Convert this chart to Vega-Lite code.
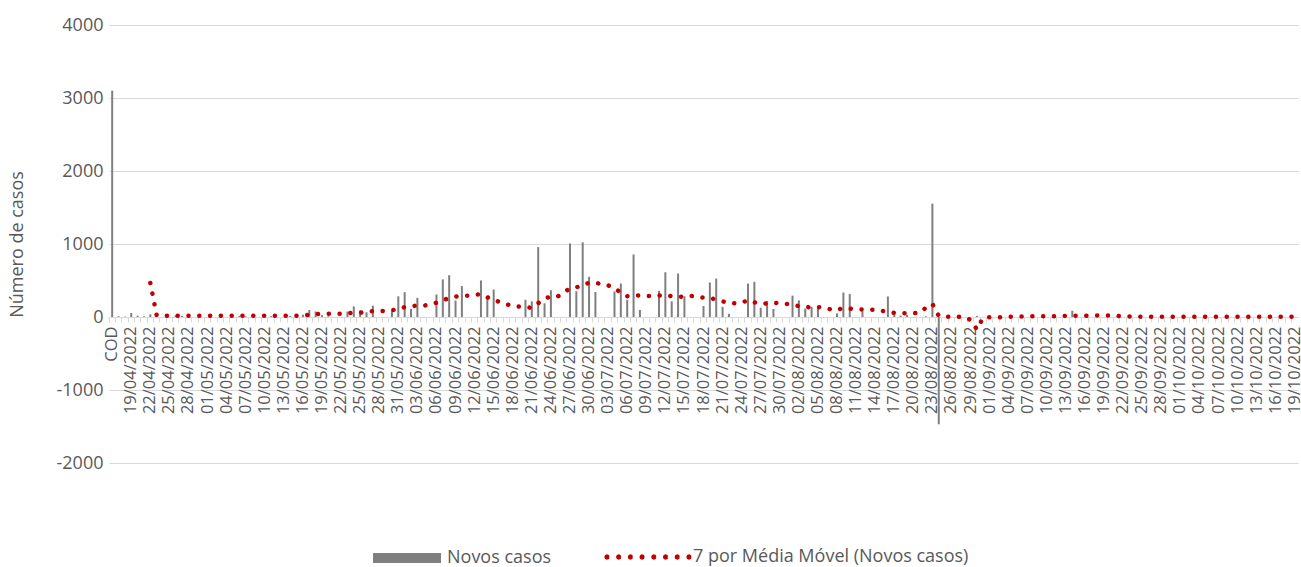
{
  "$schema": "https://vega.github.io/schema/vega-lite/v6.json",
  "width": 1189,
  "height": 438,
  "autosize": {"type": "none"},
  "padding": {"left": 109, "top": 25, "right": 3, "bottom": 104},
  "background": "white",
  "config": {"view": {"stroke": null}, "font": "Open Sans", "legend": {"padding": 0}},
  "data": {"values": [
    {"d":"COD","v":3100},{"d":"17/04/2022","v":10},{"d":"18/04/2022","v":5},{"d":"19/04/2022","v":55},{"d":"20/04/2022","v":18},{"d":"21/04/2022","v":10},
    {"d":"22/04/2022","v":37,"m":466},{"d":"23/04/2022","v":0,"m":22},{"d":"24/04/2022","v":0,"m":18},{"d":"25/04/2022","v":0,"m":18},{"d":"26/04/2022","v":20,"m":17},{"d":"27/04/2022","v":15,"m":17},{"d":"28/04/2022","v":0,"m":17},{"d":"29/04/2022","v":0,"m":17},{"d":"30/04/2022","v":0,"m":17},
    {"d":"01/05/2022","v":0,"m":17},{"d":"02/05/2022","v":0,"m":17},{"d":"03/05/2022","v":10,"m":17},{"d":"04/05/2022","v":0,"m":17},{"d":"05/05/2022","v":0,"m":17},{"d":"06/05/2022","v":15,"m":17},{"d":"07/05/2022","v":10,"m":17},{"d":"08/05/2022","v":0,"m":17},{"d":"09/05/2022","v":0,"m":18},{"d":"10/05/2022","v":15,"m":18},
    {"d":"11/05/2022","v":12,"m":18},{"d":"12/05/2022","v":0,"m":18},{"d":"13/05/2022","v":0,"m":18},{"d":"14/05/2022","v":15,"m":18},{"d":"15/05/2022","v":10,"m":18},{"d":"16/05/2022","v":32,"m":22},{"d":"17/05/2022","v":95,"m":32},{"d":"18/05/2022","v":76,"m":38},{"d":"19/05/2022","v":25,"m":43},{"d":"20/05/2022","v":10,"m":46},
    {"d":"21/05/2022","v":0,"m":46},{"d":"22/05/2022","v":0,"m":46},{"d":"23/05/2022","v":74,"m":51},{"d":"24/05/2022","v":145,"m":57},{"d":"25/05/2022","v":88,"m":59},{"d":"26/05/2022","v":64,"m":70},{"d":"27/05/2022","v":155,"m":82},{"d":"28/05/2022","v":0,"m":83},{"d":"29/05/2022","v":0,"m":84},{"d":"30/05/2022","v":90,"m":93},{"d":"31/05/2022","v":283,"m":110},
    {"d":"01/06/2022","v":340,"m":135},{"d":"02/06/2022","v":110,"m":148},{"d":"03/06/2022","v":262,"m":156},{"d":"04/06/2022","v":0,"m":156},{"d":"05/06/2022","v":0,"m":170},{"d":"06/06/2022","v":308,"m":195},{"d":"07/06/2022","v":515,"m":230},{"d":"08/06/2022","v":573,"m":258},{"d":"09/06/2022","v":226,"m":280},{"d":"10/06/2022","v":423,"m":288},
    {"d":"11/06/2022","v":0,"m":292},{"d":"12/06/2022","v":0,"m":303},{"d":"13/06/2022","v":500,"m":315},{"d":"14/06/2022","v":250,"m":270},{"d":"15/06/2022","v":376,"m":240},{"d":"16/06/2022","v":0,"m":202},{"d":"17/06/2022","v":0,"m":175},{"d":"18/06/2022","v":0,"m":152},{"d":"19/06/2022","v":0,"m":142},{"d":"20/06/2022","v":236,"m":135},
    {"d":"21/06/2022","v":215,"m":125},{"d":"22/06/2022","v":957,"m":190},{"d":"23/06/2022","v":188,"m":255},{"d":"24/06/2022","v":367,"m":278},{"d":"25/06/2022","v":0,"m":278},{"d":"26/06/2022","v":0,"m":330},{"d":"27/06/2022","v":1007,"m":395},{"d":"28/06/2022","v":353,"m":405},{"d":"29/06/2022","v":1023,"m":440},{"d":"30/06/2022","v":550,"m":468},
    {"d":"01/07/2022","v":342,"m":465},{"d":"02/07/2022","v":0,"m":455},{"d":"03/07/2022","v":0,"m":433},{"d":"04/07/2022","v":351,"m":400},{"d":"05/07/2022","v":458,"m":330},{"d":"06/07/2022","v":236,"m":285},{"d":"07/07/2022","v":857,"m":298},{"d":"08/07/2022","v":97,"m":295},{"d":"09/07/2022","v":0,"m":287},{"d":"10/07/2022","v":0,"m":287},
    {"d":"11/07/2022","v":358,"m":293},{"d":"12/07/2022","v":613,"m":300},{"d":"13/07/2022","v":215,"m":285},{"d":"14/07/2022","v":595,"m":273},{"d":"15/07/2022","v":284,"m":285},{"d":"16/07/2022","v":0,"m":290},{"d":"17/07/2022","v":0,"m":275},{"d":"18/07/2022","v":150,"m":265},{"d":"19/07/2022","v":473,"m":259},{"d":"20/07/2022","v":527,"m":240},
    {"d":"21/07/2022","v":139,"m":215},{"d":"22/07/2022","v":44,"m":190},{"d":"23/07/2022","v":0,"m":190},{"d":"24/07/2022","v":0,"m":195},{"d":"25/07/2022","v":458,"m":230},{"d":"26/07/2022","v":483,"m":200},{"d":"27/07/2022","v":127,"m":178},{"d":"28/07/2022","v":220,"m":188},{"d":"29/07/2022","v":110,"m":192},{"d":"30/07/2022","v":0,"m":194},{"d":"31/07/2022","v":0,"m":180},
    {"d":"01/08/2022","v":293,"m":162},{"d":"02/08/2022","v":228,"m":150},{"d":"03/08/2022","v":115,"m":140},{"d":"04/08/2022","v":140,"m":130},{"d":"05/08/2022","v":125,"m":135},{"d":"06/08/2022","v":0,"m":130},{"d":"07/08/2022","v":0,"m":105},{"d":"08/08/2022","v":50,"m":95},{"d":"09/08/2022","v":336,"m":125},{"d":"10/08/2022","v":315,"m":115},
    {"d":"11/08/2022","v":0,"m":106},{"d":"12/08/2022","v":80,"m":102},{"d":"13/08/2022","v":0,"m":101},{"d":"14/08/2022","v":0,"m":101},{"d":"15/08/2022","v":0,"m":85},{"d":"16/08/2022","v":281,"m":70},{"d":"17/08/2022","v":55,"m":58},{"d":"18/08/2022","v":18,"m":54},{"d":"19/08/2022","v":30,"m":51},{"d":"20/08/2022","v":0,"m":53},
    {"d":"21/08/2022","v":0,"m":55},{"d":"22/08/2022","v":8,"m":130},{"d":"23/08/2022","v":1553,"m":180},{"d":"24/08/2022","v":-1470,"m":15},{"d":"25/08/2022","v":0,"m":5},{"d":"26/08/2022","v":0,"m":5},{"d":"27/08/2022","v":0,"m":3},{"d":"28/08/2022","v":0,"m":0},{"d":"29/08/2022","v":0,"m":-40},{"d":"30/08/2022","v":15,"m":-170},{"d":"31/08/2022","v":0,"m":-5},
    {"d":"01/09/2022","v":0,"m":-5},{"d":"02/09/2022","v":0,"m":-5},{"d":"03/09/2022","v":0,"m":-3},{"d":"04/09/2022","v":0,"m":2},{"d":"05/09/2022","v":0,"m":5},{"d":"06/09/2022","v":10,"m":8},{"d":"07/09/2022","v":0,"m":9},{"d":"08/09/2022","v":0,"m":9},{"d":"09/09/2022","v":0,"m":9},{"d":"10/09/2022","v":0,"m":9},
    {"d":"11/09/2022","v":0,"m":10},{"d":"12/09/2022","v":0,"m":12},{"d":"13/09/2022","v":0,"m":16},{"d":"14/09/2022","v":85,"m":18},{"d":"15/09/2022","v":0,"m":18},{"d":"16/09/2022","v":10,"m":18},{"d":"17/09/2022","v":0,"m":20},{"d":"18/09/2022","v":0,"m":22},{"d":"19/09/2022","v":0,"m":22},{"d":"20/09/2022","v":0,"m":20},
    {"d":"21/09/2022","v":8,"m":15},{"d":"22/09/2022","v":0,"m":10},{"d":"23/09/2022","v":0,"m":8},{"d":"24/09/2022","v":0,"m":6},{"d":"25/09/2022","v":0,"m":3},{"d":"26/09/2022","v":0,"m":2},{"d":"27/09/2022","v":0,"m":2},{"d":"28/09/2022","v":0,"m":2},{"d":"29/09/2022","v":0,"m":2},{"d":"30/09/2022","v":0,"m":2},
    {"d":"01/10/2022","v":0,"m":2},{"d":"02/10/2022","v":0,"m":2},{"d":"03/10/2022","v":0,"m":2},{"d":"04/10/2022","v":0,"m":2},{"d":"05/10/2022","v":0,"m":2},{"d":"06/10/2022","v":0,"m":2},{"d":"07/10/2022","v":0,"m":2},{"d":"08/10/2022","v":0,"m":2},{"d":"09/10/2022","v":0,"m":2},{"d":"10/10/2022","v":0,"m":2},
    {"d":"11/10/2022","v":0,"m":2},{"d":"12/10/2022","v":0,"m":2},{"d":"13/10/2022","v":0,"m":2},{"d":"14/10/2022","v":0,"m":2},{"d":"15/10/2022","v":0,"m":2},{"d":"16/10/2022","v":0,"m":2},{"d":"17/10/2022","v":0,"m":2},{"d":"18/10/2022","v":0,"m":2},{"d":"19/10/2022","v":0,"m":2}
  ]},
  "encoding": {
    "x": {
      "field": "d", "type": "ordinal", "sort": null, "title": null,
      "scale": {"paddingInner": 0, "paddingOuter": 0},
      "axis": {
        "offset": -146, "domainColor": "#d9d9d9", "domainWidth": 1,
        "tickColor": "#d9d9d9", "tickSize": 5, "tickWidth": 1, "bandPosition": 0,
        "labelAngle": 270, "labelAlign": "right", "labelBaseline": "middle", "labelPadding": 4,
        "labelFont": "Open Sans", "labelFontSize": 16.5, "labelColor": "#595959",
        "labelOverlap": false, "labelBound": false, "labelFlush": false,
        "labelExpr": "datum.value == 'COD' ? 'COD' : (round((time(datetime(2022, toNumber(substring(datum.value, 3, 5)) - 1, toNumber(substring(datum.value, 0, 2)))) - time(datetime(2022, 3, 19))) / 86400000) % 3 == 0 ? datum.value : '')"
      }
    }
  },
  "layer": [
    {
      "mark": {"type": "bar", "size": 2},
      "encoding": {
        "y": {
          "field": "v", "type": "quantitative",
          "scale": {"domain": [-2000, 4000], "nice": false},
          "axis": {
            "values": [-2000, -1000, 0, 1000, 2000, 3000, 4000], "labelExpr": "'' + datum.value",
            "title": "Número de casos", "domain": false, "ticks": false, "tickSize": 0,
            "labelPadding": 6, "labelFont": "Open Sans", "labelFontSize": 18, "labelColor": "#595959",
            "gridColor": "#d9d9d9", "gridWidth": 1,
            "titleFont": "Open Sans", "titleFontSize": 18, "titleFontWeight": "normal", "titleColor": "#595959", "titlePadding": 30
          }
        },
        "fill": {
          "datum": "Novos casos",
          "scale": {"range": ["#7f7f7f"]},
          "legend": {
            "orient": "none", "legendX": 264, "legendY": 499, "title": null,
            "symbolType": "M-1,-0.15H1V0.15H-1Z", "symbolSize": 4624, "symbolStrokeWidth": 0,
            "labelFont": "Open Sans", "labelFontSize": 18, "labelColor": "#595959", "labelOffset": 6, "labelLimit": 500
          }
        }
      }
    },
    {
      "mark": {"type": "line", "strokeWidth": 4.5, "strokeDash": [0.1, 10.7], "strokeCap": "round"},
      "encoding": {
        "y": {
          "field": "m", "type": "quantitative",
          "scale": {"domain": [-2000, 4000], "nice": false},
          "axis": {
            "values": [-2000, -1000, 0, 1000, 2000, 3000, 4000], "labelExpr": "'' + datum.value",
            "title": "Número de casos", "domain": false, "ticks": false, "tickSize": 0,
            "labelPadding": 6, "labelFont": "Open Sans", "labelFontSize": 18, "labelColor": "#595959",
            "gridColor": "#d9d9d9", "gridWidth": 1,
            "titleFont": "Open Sans", "titleFontSize": 18, "titleFontWeight": "normal", "titleColor": "#595959", "titlePadding": 30
          }
        },
        "stroke": {
          "datum": "7 por Média Móvel (Novos casos)",
          "scale": {"range": ["#c00000"]},
          "legend": {
            "orient": "none", "legendX": 497, "legendY": 490, "title": null,
            "symbolType": "M-0.96,0l-0.0117,0.0283l-0.0283,0.0117l-0.0283,-0.0117l-0.0117,-0.0283l0.0117,-0.0283l0.0283,-0.0117l0.0283,0.0117zM-0.6743,0l-0.0117,0.0283l-0.0283,0.0117l-0.0283,-0.0117l-0.0117,-0.0283l0.0117,-0.0283l0.0283,-0.0117l0.0283,0.0117zM-0.3886,0l-0.0117,0.0283l-0.0283,0.0117l-0.0283,-0.0117l-0.0117,-0.0283l0.0117,-0.0283l0.0283,-0.0117l0.0283,0.0117zM-0.1029,0l-0.0117,0.0283l-0.0283,0.0117l-0.0283,-0.0117l-0.0117,-0.0283l0.0117,-0.0283l0.0283,-0.0117l0.0283,0.0117zM0.1829,0l-0.0117,0.0283l-0.0283,0.0117l-0.0283,-0.0117l-0.0117,-0.0283l0.0117,-0.0283l0.0283,-0.0117l0.0283,0.0117zM0.4686,0l-0.0117,0.0283l-0.0283,0.0117l-0.0283,-0.0117l-0.0117,-0.0283l0.0117,-0.0283l0.0283,-0.0117l0.0283,0.0117zM0.7543,0l-0.0117,0.0283l-0.0283,0.0117l-0.0283,-0.0117l-0.0117,-0.0283l0.0117,-0.0283l0.0283,-0.0117l0.0283,0.0117zM1.04,0l-0.0117,0.0283l-0.0283,0.0117l-0.0283,-0.0117l-0.0117,-0.0283l0.0117,-0.0283l0.0283,-0.0117l0.0283,0.0117z",
            "symbolSize": 6724, "symbolStrokeWidth": 2, "symbolDash": [1000, 0],
            "symbolStrokeColor": "#c00000", "symbolFillColor": "#c00000",
            "labelFont": "Open Sans", "labelFontSize": 18, "labelColor": "#595959", "labelOffset": 3, "labelLimit": 500
          }
        }
      }
    }
  ]
}
